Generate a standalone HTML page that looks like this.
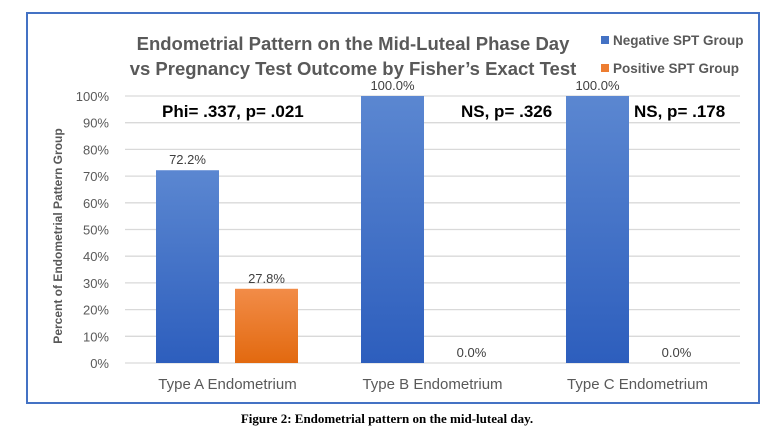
<!DOCTYPE html>
<html><head><meta charset="utf-8"><style>
body{margin:0;background:#fff;width:774px;height:437px;overflow:hidden}
svg{display:block}
</style></head><body>
<svg width="774" height="437" xmlns="http://www.w3.org/2000/svg" font-family="Liberation Sans, sans-serif">
<defs>
<linearGradient id="gb" x1="0" y1="0" x2="0" y2="1"><stop offset="0" stop-color="#5b87d1"/><stop offset="1" stop-color="#2d5ebd"/></linearGradient>
<linearGradient id="go" x1="0" y1="0" x2="0" y2="1"><stop offset="0" stop-color="#f28c48"/><stop offset="1" stop-color="#e2690f"/></linearGradient>
</defs>
<rect x="27" y="13" width="732" height="390" fill="#fff" stroke="#4472c4" stroke-width="2"/>
<g id="grid"></g><g id="bars"></g>
<text x="353" y="50" text-anchor="middle" font-size="18.5" font-weight="bold" fill="#595959">Endometrial Pattern on the Mid-Luteal Phase Day</text>
<text x="353" y="75" text-anchor="middle" font-size="18.5" font-weight="bold" fill="#595959">vs Pregnancy Test Outcome by Fisher’s Exact Test</text>
<rect x="601" y="36" width="8" height="8" fill="#4472c4"/>
<text x="613" y="45" font-size="13.5" font-weight="bold" fill="#595959">Negative SPT Group</text>
<rect x="601" y="64" width="8" height="8" fill="#ed7d31"/>
<text x="613" y="73" font-size="13.5" font-weight="bold" fill="#595959">Positive SPT Group</text>
<text transform="translate(62,236) rotate(-90)" text-anchor="middle" font-size="12" font-weight="bold" fill="#595959">Percent of Endometrial Pattern Group</text>
<text x="162" y="117" font-size="17" font-weight="bold" fill="#000">Phi= .337, p= .021</text>
<text x="461" y="117" font-size="17" font-weight="bold" fill="#000">NS, p= .326</text>
<text x="634" y="117" font-size="17" font-weight="bold" fill="#000">NS, p= .178</text>
<text x="387" y="423" text-anchor="middle" font-family="Liberation Serif, serif" font-size="13" font-weight="bold" fill="#000">Figure 2: Endometrial pattern on the mid-luteal day.</text>
</svg>
<script>
const categories=["Type A Endometrium","Type B Endometrium","Type C Endometrium"];
const negative=[72.2,100.0,100.0];
const positive=[27.8,0.0,0.0];
const yTicks=[0,10,20,30,40,50,60,70,80,90,100];
const NS="http://www.w3.org/2000/svg";
const x0=125,step=205,yb=363,yt=96;
const y=v=>yb-(v/100)*(yb-yt);
const mk=(t,a)=>{const e=document.createElementNS(NS,t);for(const k in a)e.setAttribute(k,a[k]);return e;};
const grid=document.getElementById('grid'),bars=document.getElementById('bars');
yTicks.forEach(t=>{
 const l=mk('line',{x1:x0,x2:x0+step*categories.length,y1:y(t),y2:y(t),stroke:'#d9d9d9','stroke-width':1.3});
 
 
 grid.appendChild(l);
 const tx=mk('text',{x:109,y:y(t)+5,'text-anchor':'end','font-size':13,fill:'#595959'});
 tx.textContent=t+'%';
 
 
 grid.appendChild(tx);
});
categories.forEach((c,i)=>{
 const cs=x0+i*step;
 [[negative[i],31,'url(#gb)','negative'],[positive[i],110,'url(#go)','positive']].forEach(([v,off,f,n])=>{
  const r=mk('rect',{x:cs+off,y:y(v),width:63,height:yb-y(v),fill:f});
  
  
  bars.appendChild(r);
  const lb=mk('text',{x:cs+off+31.5,y:y(v)-6,'text-anchor':'middle','font-size':13,fill:'#404040'});
  lb.textContent=v.toFixed(1)+'%';
  
  
  bars.appendChild(lb);
 });
 const ct=mk('text',{x:cs+step/2,y:389,'text-anchor':'middle','font-size':15,fill:'#595959'});
 ct.textContent=c;
 
 
 bars.appendChild(ct);
});
</script>
</body></html>
